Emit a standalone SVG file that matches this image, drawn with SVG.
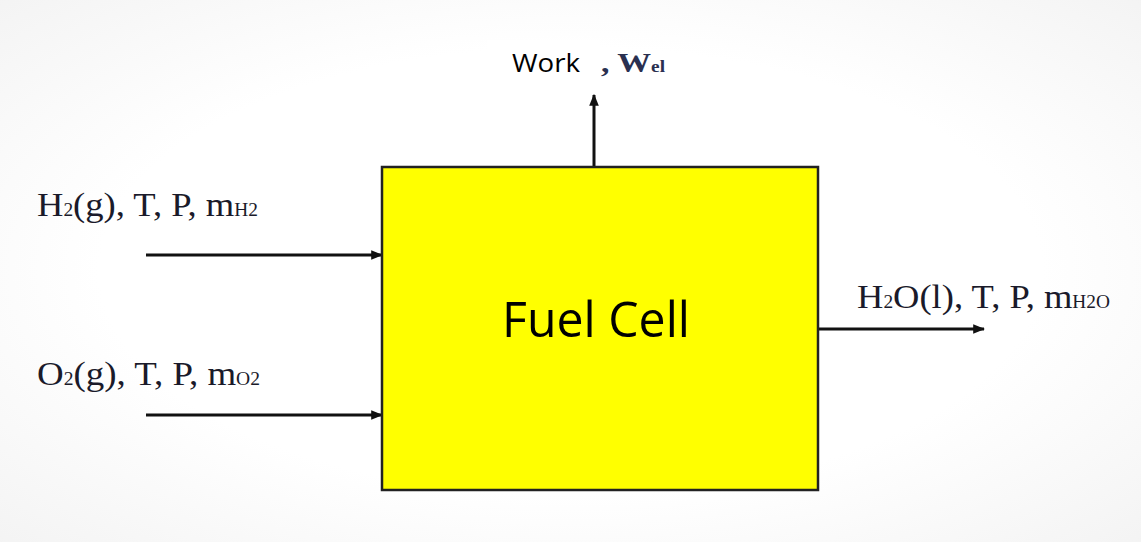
<svg xmlns="http://www.w3.org/2000/svg" width="1141" height="542" viewBox="0 0 1141 542">
<defs>
<radialGradient id="bg" cx="0.5" cy="0.5" r="0.75">
<stop offset="0.55" stop-color="#ffffff"/>
<stop offset="1" stop-color="#f2f2f2"/>
</radialGradient>
<marker id="ah" viewBox="0 0 10 10" refX="9" refY="5" markerWidth="4" markerHeight="4" orient="auto" markerUnits="strokeWidth">
<path d="M0,1 L10,5 L0,9 Z" fill="#111"/>
</marker>
</defs>
<style>
.lbl{font-family:"Liberation Serif","Times New Roman",serif;font-size:34px;fill:#1a1a2a}
.sub{font-size:18px}
.conn{stroke:#111;stroke-width:3;fill:none;marker-end:url(#ah)}
</style>
<rect x="0" y="0" width="1141" height="542" fill="url(#bg)"/>
<g id="connectors">
<line class="conn" x1="146" y1="255" x2="382" y2="255"/>
<line class="conn" x1="146" y1="415" x2="382" y2="415"/>
<line class="conn" x1="818" y1="329" x2="984" y2="329"/>
<line class="conn" x1="594" y1="166" x2="594" y2="95"/>
</g>
<g id="fuelcell">
<rect x="382" y="167" width="436" height="323" fill="#ffff00" stroke="#222" stroke-width="2.5"/>
<text x="502" y="337" font-family="'Open Sans','Noto Sans',sans-serif" font-size="50" fill="#000" textLength="188" lengthAdjust="spacingAndGlyphs">Fuel Cell</text>
</g>
<g id="h2in">
<text class="lbl" x="37" y="216" textLength="221" lengthAdjust="spacingAndGlyphs">H<tspan class="sub">2</tspan>(g), T, P, m<tspan class="sub">H2</tspan></text>
</g>
<g id="o2in">
<text class="lbl" x="37" y="385" textLength="223" lengthAdjust="spacingAndGlyphs">O<tspan class="sub">2</tspan>(g), T, P, m<tspan class="sub">O2</tspan></text>
</g>
<g id="h2oout">
<text class="lbl" x="857" y="308" textLength="253" lengthAdjust="spacingAndGlyphs">H<tspan class="sub">2</tspan>O(l), T, P, m<tspan class="sub">H2O</tspan></text>
</g>
<g id="work">
<rect x="487" y="40" width="113" height="42" fill="#ffffff"/>
<text x="512" y="72" font-family="'Open Sans','Noto Sans',sans-serif" font-size="26" fill="#000" textLength="68" lengthAdjust="spacingAndGlyphs">Work</text>
<text x="601" y="72" font-family="'Liberation Serif',serif" font-size="28" font-weight="bold" fill="#2a3050" textLength="64" lengthAdjust="spacingAndGlyphs">, W<tspan font-size="16">el</tspan></text>
</g>
</svg>
